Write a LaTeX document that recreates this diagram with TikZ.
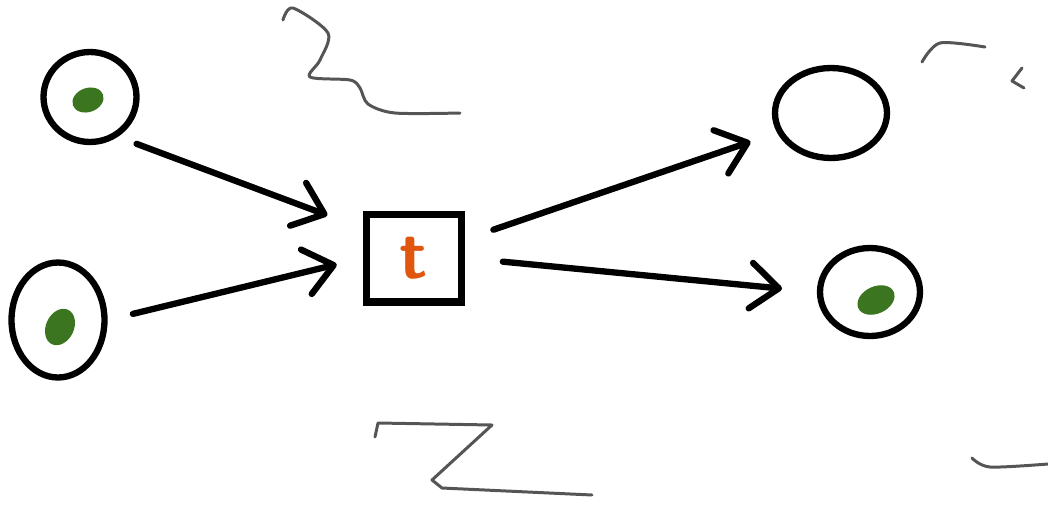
\documentclass[tikz,border=0pt]{standalone}
\usepackage{tikz}
\usetikzlibrary{arrows.meta,shapes.geometric}
\definecolor{tokgreen}{HTML}{3B7520}
\definecolor{torange}{HTML}{E0560F}
\definecolor{scribble}{HTML}{555555}
\tikzset{
  place/.style={draw,ellipse,line width=3.6pt,inner sep=0pt},
  trans/.style={draw,rectangle,line width=4pt,minimum width=1.9cm,minimum height=1.76cm,
    text=torange,font=\sffamily\bfseries\fontsize{40}{40}\selectfont},
  token/.style={ellipse,fill=tokgreen,inner sep=0pt},
  arc/.style={line width=3.6pt,line cap=round,-{Straight Barb[length=16pt,width=26pt,round]}},
  scrib/.style={scribble,line width=1.7pt,line cap=round,line join=round}
}

\begin{document}
\begin{tikzpicture}[x=0.02cm,y=-0.02cm]
  \useasboundingbox (0,0) rectangle (1048,508);
  % places
  \node[place,minimum width=1.86cm,minimum height=1.8cm] (p1) at (90,97) {};
  \node[place,minimum width=1.86cm,minimum height=2.3cm] (p2) at (58,320) {};
  \node[place,minimum width=2.24cm,minimum height=1.8cm] (p3) at (831,113) {};
  \node[place,minimum width=2cm,minimum height=1.76cm] (p4) at (870,292) {};
  % tokens
  \node[token,minimum width=0.64cm,minimum height=0.48cm,rotate=20] (k1) at (88,100) {};
  \node[token,minimum width=0.76cm,minimum height=0.56cm,rotate=65] (k2) at (60,327) {};
  \node[token,minimum width=0.78cm,minimum height=0.54cm,rotate=25] (k4) at (876,300) {};
  % transition
  \node[trans] (t) at (414,258) {t};
  % arcs
  \draw[arc,shorten <=0.4cm,shorten >=0.76cm] (p1.-55) -- (t.150);
  \draw[arc,shorten <=0.52cm,shorten >=0.54cm] (p2.east) -- (t.west);
  \draw[arc,shorten <=0.6cm,shorten >=0.56cm] (t.20) -- (p3.200);
  \draw[arc,shorten <=0.76cm,shorten >=0.7cm] (t.east) -- (p4.west);
  % scribbles
  \draw[scrib] plot[smooth,tension=0.5] coordinates {(283,20) (293,8) (328,33) (320,60) (310,77) (350,80) (360,88) (368,104) (395,113) (460,113)};
  \draw[scrib] (375,437) -- (378,423) -- (492,425) -- (432,480) -- (442,488) -- (592,495);
  \draw[scrib] plot[smooth] coordinates {(922,62) (940,43) (985,47)};
  \draw[scrib] (1022,68) -- (1012,81) -- (1024,88);
  \draw[scrib] plot[smooth] coordinates {(972,458) (990,467) (1048,464)};
\end{tikzpicture}
\end{document}
